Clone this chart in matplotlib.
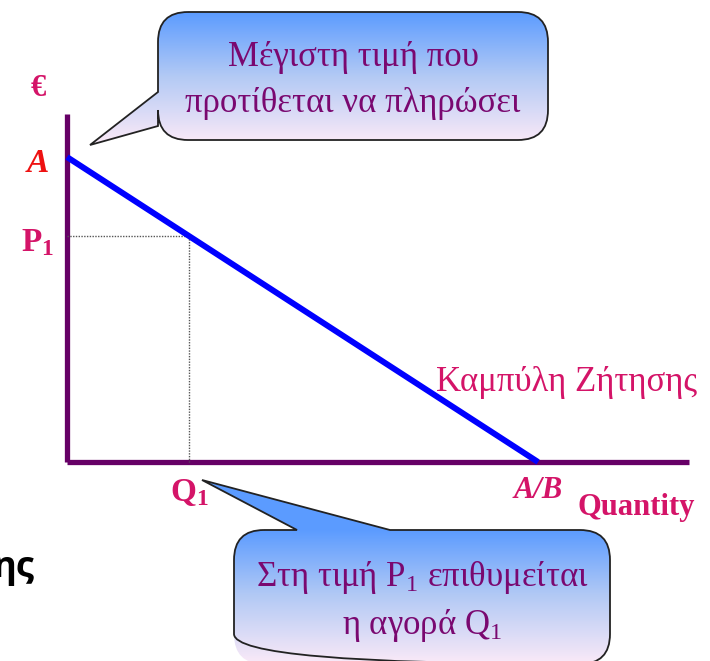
import numpy as np
import matplotlib
matplotlib.use('Agg')
import matplotlib.pyplot as plt
from matplotlib.path import Path
from matplotlib.patches import PathPatch

plt.rcParams['font.family'] = ['Liberation Serif', 'DejaVu Serif']
plt.rcParams['mathtext.fontset'] = 'custom'
plt.rcParams['mathtext.rm'] = 'Liberation Serif'
plt.rcParams['mathtext.it'] = 'Liberation Serif:italic'
plt.rcParams['mathtext.bf'] = 'Liberation Serif:bold'

# demand curve data
demand_q = [0, 10]          # quantity: 0 .. A/B
demand_p = [10, 0]          # price: A .. 0
q1 = 2.6
p1 = 7.4
x_axis_end = 13.2
y_axis_end = 11.4

axis_col = '#660066'
label_col = '#d41468'
bubble_text_col = '#7a0870'

fig = plt.figure(figsize=(7.1, 6.61), dpi=100)

# data axes, spines drawn by hand
ax = fig.add_axes([0, 0, 1, 1])
ax.set_xlim(-1.4225, 13.65)
ax.set_ylim(-6.525, 15.15)
ax.axis('off')

ax.plot([0, 0], [0, y_axis_end], color=axis_col, lw=3.8, solid_capstyle='butt')
ax.plot([0, x_axis_end], [0, 0], color=axis_col, lw=3.8, solid_capstyle='butt')
ax.plot([0, q1], [p1, p1], color='#555555', lw=1, ls=(0, (1, 1)))
ax.plot([q1, q1], [p1, 0], color='#555555', lw=1, ls=(0, (1, 1)))
ax.plot(demand_q, demand_p, color='#0000ff', lw=4.3, solid_capstyle='butt', zorder=3)

ax.text(-0.62, 12.25, '€', color=label_col, fontsize=22, fontweight='bold', ha='center', va='center')
ax.text(-0.62, demand_p[0] - 0.2, 'A', color='#ee1111', fontsize=24, fontweight='bold',
        fontstyle='italic', ha='center', va='center')
ax.text(-0.62, p1 - 0.2, r'$\mathbf{P}_\mathbf{1}$', color=label_col, fontsize=24,
        ha='center', va='center')
ax.text(q1, -1.0, r'$\mathbf{Q}_\mathbf{1}$', color=label_col, fontsize=24,
        ha='center', va='center')
ax.text(demand_q[1], -0.92, 'A/B', color=label_col, fontsize=22, fontweight='bold',
        fontstyle='italic', ha='center', va='center')
ax.text(12.08, -1.5, 'Quantity', color=label_col, fontsize=22, fontweight='bold',
        ha='center', va='center')
ax.text(10.6, 2.62, 'Καμπύλη Ζήτησης', color=label_col, fontsize=25,
        ha='center', va='center')

# overlay in pixel coordinates for the callouts
ov = fig.add_axes([0, 0, 1, 1])
ov.patch.set_alpha(0)
ov.axis('off')


def bubble(x0, y0, x1, y1, r, left_tail=None, top_tail=None):
    C3 = Path.CURVE3
    v = [(x0 + r, y0)]
    c = [Path.MOVETO]
    if top_tail:
        for p in top_tail:
            v.append(p); c.append(Path.LINETO)
    v += [(x1 - r, y0), (x1, y0), (x1, y0 + r)]
    c += [Path.LINETO, C3, C3]
    v += [(x1, y1 - r), (x1, y1), (x1 - r, y1)]
    c += [Path.LINETO, C3, C3]
    v += [(x0 + r, y1), (x0, y1), (x0, y1 - r)]
    c += [Path.LINETO, C3, C3]
    if left_tail:
        for p in left_tail:
            v.append(p); c.append(Path.LINETO)
    v += [(x0, y0 + r), (x0, y0), (x0 + r, y0)]
    c += [Path.LINETO, C3, C3]
    return Path(v, c)


def draw_bubble(path, ytop, ybot):
    ext = path.get_extents()
    ys = np.linspace(ext.y0, ext.y1, 200)
    t = np.clip((ys - ytop) / (ybot - ytop), 0, 1)
    stops_t = [0, 0.5, 1]
    stops = np.array([[0.36, 0.61, 1.0], [0.70, 0.79, 0.96], [0.97, 0.91, 0.97]])
    img = np.stack([np.interp(t, stops_t, stops[:, k]) for k in range(3)], axis=-1)
    img = img[:, None, :]
    im = ov.imshow(img, extent=(ext.x0, ext.x1, ext.y1, ext.y0), origin='upper',
                   aspect='auto', zorder=4)
    patch = PathPatch(path, facecolor='none', edgecolor='#222222', lw=1.3, zorder=5)
    ov.add_patch(patch)
    im.set_clip_path(patch)


p_top = bubble(158, 12, 548, 140, 30, left_tail=[(158, 126), (90, 145), (158, 92)])
draw_bubble(p_top, 12, 140)
p_bot = bubble(234, 530, 610, 664, 30, top_tail=[(297, 530), (202, 480), (390, 530)])
draw_bubble(p_bot, 530, 661)

ov.set_xlim(0, 710)
ov.set_ylim(661, 0)

ov.text(353, 58, 'Μέγιστη τιμή που', color=bubble_text_col, fontsize=25,
        ha='center', va='center', zorder=6)
ov.text(353, 103, 'προτίθεται να πληρώσει', color=bubble_text_col, fontsize=25,
        ha='center', va='center', zorder=6)
ov.text(422, 577, r'Στη τιμή $\mathrm{P}_1$ επιθυμείται', color=bubble_text_col, fontsize=25,
        ha='center', va='center', zorder=6)
ov.text(422, 625, r'η αγορά $\mathrm{Q}_1$', color=bubble_text_col, fontsize=25,
        ha='center', va='center', zorder=6)

# fragment of slide text cut by the left edge
ov.text(34, 568, 'ης', color='black', fontsize=26, fontweight='bold',
        family=['Open Sans', 'DejaVu Sans'], ha='right', va='center')

fig.savefig('out.png', dpi=100)
